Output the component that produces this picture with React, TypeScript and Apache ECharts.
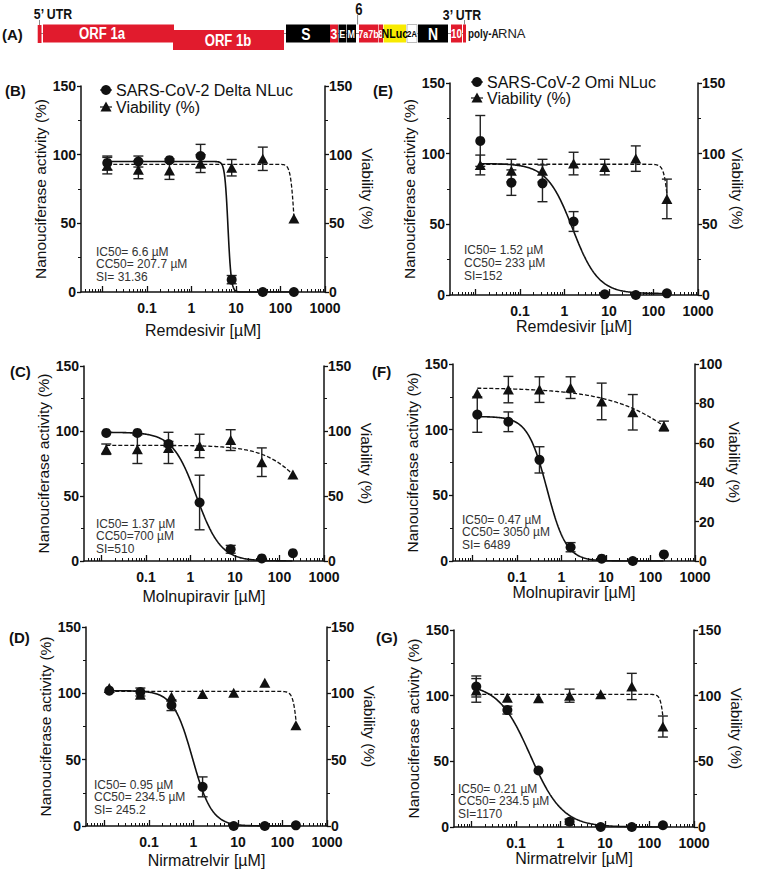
import React, { useEffect, useRef } from "react";
import * as echarts from "echarts";

const FONT = "'Liberation Sans', Arial, Helvetica, sans-serif";
const INK = "#111";

// Drug concentrations (µM), 5-fold dilution series
const concentrations = [0.0128, 0.064, 0.32, 1.6, 8, 40, 200];
const xTickValues = [0.1, 1, 10, 100, 1000];
const xTickLabels = ["0.1", "1", "10", "100", "1000"];

// 4PL fit parameters: [top, bottom, IC50 / CC50 (µM), hill slope]

// (B) SARS-CoV-2 Delta NLuc – Remdesivir
const deltaRemNluc = [94, 95, 96, 99, 9, 0, 0];
const deltaRemNlucSd = [5, 4, 1, 8.5, 3, 0, 0];
const deltaRemViab = [92, 89, 88.5, 93.5, 90.5, 97, 53.5];
const deltaRemViabSd = [6, 6.5, 6.5, 6.5, 6, 8.5, 0];
const deltaRemNlucFit = [95, 0, 6.6, 12];
const deltaRemViabFit = [93, 0, 207.7, 10];
const deltaRemStats = ["IC50= 6.6 µM", "CC50= 207.7 µM", "SI= 31.36"];

// (C) SARS-CoV-2 Delta NLuc – Molnupiravir
const deltaMolNluc = [98.5, 98.5, 90, 45, 9, 2, 6];
const deltaMolNlucSd = [0, 0, 2, 21, 3, 0, 0];
const deltaMolViab = [86, 86, 87, 88.5, 93, 76, 66.5];
const deltaMolViabSd = [4, 11, 12, 9, 8, 11, 0];
const deltaMolNlucFit = [99, 0, 1.37, 1.6];
const deltaMolViabFit = [89, 0, 700, 0.865];
const deltaMolStats = ["IC50= 1.37 µM", "CC50=700 µM", "SI=510"];

// (D) SARS-CoV-2 Delta NLuc – Nirmatrelvir
const deltaNirNluc = [102, 101, 91, 29.5, 0, 0, 0.5];
const deltaNirNlucSd = [0, 3, 4, 7.5, 0, 0, 0];
const deltaNirViab = [104, 99, 97.5, 99.5, 100.5, 108, 76];
const deltaNirViabSd = [0, 0, 0, 0, 0, 0, 0];
const deltaNirNlucFit = [102, 0, 0.95, 2];
const deltaNirViabFit = [101.5, 0, 234.5, 8.3];
const deltaNirStats = ["IC50= 0.95 µM", "CC50= 234.5 µM", "SI= 245.2"];

// (E) SARS-CoV-2 Omi NLuc – Remdesivir
const omiRemNluc = [109, 79.5, 79, 52, 0.5, 0, 1.2];
const omiRemNlucSd = [18, 9, 13, 7, 0, 0, 0];
const omiRemViab = [92, 88, 88, 93, 90.5, 96.5, 68];
const omiRemViabSd = [7, 8, 8, 8, 5.5, 9, 14];
const omiRemNlucFit = [93, 1, 1.52, 1.5];
const omiRemViabFit = [92.5, 0, 233, 8];
const omiRemStats = ["IC50= 1.52 µM", "CC50= 233 µM", "SI=152"];

// (F) SARS-CoV-2 Omi NLuc – Molnupiravir (viability on a 0–100 axis)
const omiMolNluc = [111.5, 106, 77, 10.5, 1.8, 0, 5];
const omiMolNlucSd = [13.5, 7.5, 10, 3.5, 0, 0, 0];
const omiMolViab = [85, 87, 87, 88, 81, 75.5, 68.5];
const omiMolViabSd = [0, 6.7, 6.5, 5.5, 9.3, 9, 2.5];
const omiMolNlucFit = [110, 0, 0.47, 2];
const omiMolViabFit = [88, 0, 3050, 0.46];
const omiMolStats = ["IC50= 0.47 µM", "CC50= 3050 µM", "SI= 6489"];

// (G) SARS-CoV-2 Omi NLuc – Nirmatrelvir
const omiNirNluc = [107, 89, 43, 4, 0, 0, 1.3];
const omiNirNlucSd = [8, 3, 0, 2, 0, 0, 0];
const omiNirViab = [104, 98.5, 98, 100, 101, 107, 76.5];
const omiNirViabSd = [9, 0, 0, 5, 0, 10, 8];
const omiNirNlucFit = [109, 0, 0.21, 1.2];
const omiNirViabFit = [101, 0, 234.5, 10];
const omiNirStats = ["IC50= 0.21 µM", "CC50= 234.5 µM", "SI=1170"];

type Panel = {
  tag: string;
  box: [number, number, number, number]; // left, top, right, bottom
  drug: string;
  nluc: number[];
  nlucSd: number[];
  viab: number[];
  viabSd: number[];
  nlucFit: number[];
  viabFit: number[];
  stats: string[];
  statsPos: [number, number, number];
  tagPos: [number, number];
  viabMax: number;
  viabInterval: number;
  gaps: { x: number; yl: number; yr: number };
  legend?: { text: string; pos: [number, number]; textX: number; rowGap: number };
};

const panels: Panel[] = [
  {
    tag: "(B)", box: [81, 86, 325, 292], drug: "Remdesivir [µM]",
    nluc: deltaRemNluc, nlucSd: deltaRemNlucSd, viab: deltaRemViab, viabSd: deltaRemViabSd,
    nlucFit: deltaRemNlucFit, viabFit: deltaRemViabFit, stats: deltaRemStats,
    statsPos: [96, 252, 12.3], tagPos: [5, 90], viabMax: 150, viabInterval: 50,
    gaps: { x: 30, yl: 15, yr: 34 },
    legend: { text: "SARS-CoV-2 Delta NLuc", pos: [106, 90], textX: 116, rowGap: 17 },
  },
  {
    tag: "(C)", box: [84, 366, 324, 561], drug: "Molnupiravir [µM]",
    nluc: deltaMolNluc, nlucSd: deltaMolNlucSd, viab: deltaMolViab, viabSd: deltaMolViabSd,
    nlucFit: deltaMolNlucFit, viabFit: deltaMolViabFit, stats: deltaMolStats,
    statsPos: [96, 524, 12.3], tagPos: [10, 371], viabMax: 150, viabInterval: 50,
    gaps: { x: 27, yl: 24, yr: 34 },
  },
  {
    tag: "(D)", box: [86, 627, 327, 826], drug: "Nirmatrelvir [µM]",
    nluc: deltaNirNluc, nlucSd: deltaNirNlucSd, viab: deltaNirViab, viabSd: deltaNirViabSd,
    nlucFit: deltaNirNlucFit, viabFit: deltaNirViabFit, stats: deltaNirStats,
    statsPos: [94, 785, 12.3], tagPos: [9, 637], viabMax: 150, viabInterval: 50,
    gaps: { x: 26, yl: 24, yr: 34 },
  },
  {
    tag: "(E)", box: [450, 83, 698, 295], drug: "Remdesivir [µM]",
    nluc: omiRemNluc, nlucSd: omiRemNlucSd, viab: omiRemViab, viabSd: omiRemViabSd,
    nlucFit: omiRemNlucFit, viabFit: omiRemViabFit, stats: omiRemStats,
    statsPos: [464, 250, 13.2], tagPos: [373, 90], viabMax: 150, viabInterval: 50,
    gaps: { x: 20, yl: 14, yr: 26 },
    legend: { text: "SARS-CoV-2 Omi NLuc", pos: [477, 82], textX: 487, rowGap: 16 },
  },
  {
    tag: "(F)", box: [453, 364, 695, 561], drug: "Molnupiravir [µM]",
    nluc: omiMolNluc, nlucSd: omiMolNlucSd, viab: omiMolViab, viabSd: omiMolViabSd,
    nlucFit: omiMolNlucFit, viabFit: omiMolViabFit, stats: omiMolStats,
    statsPos: [462, 520, 12.3], tagPos: [372, 371], viabMax: 100, viabInterval: 20,
    gaps: { x: 22, yl: 27, yr: 28 },
  },
  {
    tag: "(G)", box: [454, 630, 694, 827], drug: "Nirmatrelvir [µM]",
    nluc: omiNirNluc, nlucSd: omiNirNlucSd, viab: omiNirViab, viabSd: omiNirViabSd,
    nlucFit: omiNirNlucFit, viabFit: omiNirViabFit, stats: omiNirStats,
    statsPos: [458, 789, 12.3], tagPos: [376, 637], viabMax: 150, viabInterval: 50,
    gaps: { x: 20, yl: 22, yr: 34 },
  },
];

const PX_PER_DECADE = 44.5;
const LOG_MAX = Math.log10(1000);

function fourPL(fit: number[], c: number) {
  const [top, bottom, mid, hill] = fit;
  return bottom + (top - bottom) / (1 + Math.pow(c / mid, hill));
}

function fitCurve(fit: number[]) {
  const lo = Math.log10(concentrations[0]);
  const hi = Math.log10(concentrations[concentrations.length - 1]);
  const n = 400;
  const pts: number[][] = [];
  for (let i = 0; i <= n; i++) {
    const lx = lo + ((hi - lo) * i) / n;
    pts.push([lx, fourPL(fit, Math.pow(10, lx))]);
  }
  return pts;
}

function errorBarRender(params: any, api: any) {
  const x = api.value(0);
  const top = api.coord([x, api.value(2)]);
  const bot = api.coord([x, api.value(1)]);
  const w = 5;
  const style = { stroke: "#222", lineWidth: 1.4 };
  return {
    type: "group",
    children: [
      { type: "line", shape: { x1: top[0], y1: top[1], x2: bot[0], y2: bot[1] }, style },
      { type: "line", shape: { x1: top[0] - w, y1: top[1], x2: top[0] + w, y2: top[1] }, style },
      { type: "line", shape: { x1: bot[0] - w, y1: bot[1], x2: bot[0] + w, y2: bot[1] }, style },
    ],
  };
}

const RED = "#e11b2d";
const genomeBlocks = [
  { label: "", x0: 37.7, x1: 41.5, y0: 25, y1: 43, fill: RED },
  { label: "ORF 1a", x0: 43, x1: 174, y0: 24.5, y1: 42.5, fill: RED, tx: 102, size: 16 },
  { label: "ORF 1b", x0: 173, x1: 284, y0: 30, y1: 50, fill: RED, tx: 228, size: 16 },
  { label: "S", x0: 286, x1: 330, y0: 24.5, y1: 42.5, fill: "#000", tx: 306, size: 17 },
  { label: "3", x0: 330, x1: 338, y0: 24.5, y1: 42.5, fill: RED, size: 15 },
  { label: "E", x0: 338.5, x1: 346, y0: 24.5, y1: 42.5, fill: "#000", size: 11 },
  { label: "M", x0: 346.6, x1: 356, y0: 24.5, y1: 42.5, fill: "#000", size: 11 },
  { label: "7a7b", x0: 359, x1: 378, y0: 24.5, y1: 42.5, fill: RED, size: 11 },
  { label: "8", x0: 378.6, x1: 383, y0: 24.5, y1: 42.5, fill: RED, size: 11 },
  { label: "NLuc", x0: 383.6, x1: 406, y0: 24.5, y1: 42.5, fill: "#f8ea00", color: "#000", size: 13 },
  { label: "2A", x0: 407, x1: 417, y0: 24.5, y1: 42.5, fill: "#fff", stroke: "#aaa", color: "#000", size: 9 },
  { label: "N", x0: 418, x1: 448, y0: 24.5, y1: 42.5, fill: "#000", tx: 433, size: 17 },
  { label: "10", x0: 451, x1: 462, y0: 24.5, y1: 42.5, fill: RED, size: 12 },
  { label: "", x0: 463, x1: 466, y0: 24.5, y1: 42.5, fill: RED },
];

function narrowText(text: string, x: number, y: number, size: number, color: string, weight = "bold", align = "center") {
  return {
    type: "text",
    x,
    y,
    scaleX: 0.82,
    silent: true,
    z: 20,
    style: {
      text,
      x: 0,
      y: 0,
      fill: color,
      fontSize: size,
      fontWeight: weight,
      fontFamily: FONT,
      align,
      verticalAlign: "middle",
    },
  };
}

function buildOption() {
  const grid: any[] = [];
  const xAxis: any[] = [];
  const yAxis: any[] = [];
  const series: any[] = [];
  const graphics: any[] = [];

  // Genome map (A)
  graphics.push({ type: "line", silent: true, z: 10, shape: { x1: 38, y1: 33.5, x2: 466, y2: 33.5 }, style: { stroke: "#888", lineWidth: 1 } });
  genomeBlocks.forEach((b: any) => {
    graphics.push({
      type: "rect",
      silent: true,
      z: 11,
      shape: { x: b.x0, y: b.y0, width: b.x1 - b.x0, height: b.y1 - b.y0 },
      style: { fill: b.fill, stroke: b.stroke || null, lineWidth: b.stroke ? 0.8 : 0 },
    });
    if (b.label) {
      const cx = b.tx !== undefined ? b.tx : (b.x0 + b.x1) / 2;
      const cy = (b.y0 + b.y1) / 2 + 0.5;
      graphics.push(narrowText(b.label, cx, cy, b.size, b.color || "#fff"));
    }
  });
  [
    [39.5, 20, 25],
    [357.6, 15, 24.5],
    [464.5, 20, 24.5],
  ].forEach(([x, y1, y2]) =>
    graphics.push({ type: "line", silent: true, z: 10, shape: { x1: x, y1, x2: x, y2 }, style: { stroke: "#888", lineWidth: 1 } })
  );
  graphics.push(narrowText("5’ UTR", 53, 14, 15, INK));
  graphics.push(narrowText("6", 359, 9.5, 16, INK));
  graphics.push(narrowText("3’ UTR", 462, 15, 15, INK));
  graphics.push(narrowText("poly-A", 468, 34, 12, INK, "bold", "left"));
  graphics.push({
    type: "text", silent: true, z: 20, x: 498, y: 33,
    style: { text: "RNA", x: 0, y: 0, fill: "#222", fontSize: 13, fontFamily: FONT, align: "left", verticalAlign: "middle" },
  });
  graphics.push({
    type: "text", silent: true, z: 20, x: 2, y: 34,
    style: { text: "(A)", x: 0, y: 0, fill: INK, fontSize: 15, fontWeight: "bold", fontFamily: FONT, align: "left", verticalAlign: "middle" },
  });

  panels.forEach((p, i) => {
    const [left, top, right, bottom] = p.box;
    const width = right - left;
    const logMin = LOG_MAX - width / PX_PER_DECADE;
    grid.push({ left, top, width, height: bottom - top, containLabel: false, outerBoundsMode: "none" });

    const majorTicks = [-2, -1, 0, 1, 2, 3].filter((v) => v >= logMin);
    const minorTicks: number[] = [];
    for (let n = -3; n <= 2; n++) {
      for (let k = 2; k <= 9; k++) {
        const v = Math.log10(k * Math.pow(10, n));
        if (v > logMin && v < LOG_MAX) minorTicks.push(v);
      }
    }
    const labelPos = xTickValues.map((v) => Math.log10(v));

    xAxis.push({
      type: "value",
      gridIndex: i,
      min: logMin,
      max: LOG_MAX,
      position: "bottom",
      axisLine: { show: true, onZero: false, lineStyle: { color: INK, width: 1.5 } },
      axisTick: { show: true, inside: true, length: 6, customValues: majorTicks, lineStyle: { color: INK, width: 1.3 } },
      axisLabel: {
        show: true,
        customValues: labelPos,
        formatter: (v: number) => {
          const idx = labelPos.findIndex((q) => Math.abs(q - v) < 1e-6);
          return idx >= 0 ? xTickLabels[idx] : "";
        },
        fontSize: 14,
        fontWeight: "bold",
        fontFamily: FONT,
        color: INK,
        margin: 9,
      },
      splitLine: { show: false },
      name: p.drug,
      nameLocation: "middle",
      nameGap: p.gaps.x,
      nameTextStyle: { fontSize: 16, fontFamily: FONT, color: INK },
    });
    xAxis.push({
      type: "value",
      gridIndex: i,
      min: logMin,
      max: LOG_MAX,
      position: "bottom",
      axisLine: { show: false, onZero: false },
      axisTick: { show: true, inside: true, length: 3, customValues: minorTicks, lineStyle: { color: INK, width: 1 } },
      axisLabel: { show: false },
      splitLine: { show: false },
    });

    yAxis.push({
      type: "value",
      gridIndex: i,
      position: "left",
      min: 0,
      max: 150,
      interval: 50,
      axisLine: { show: true, onZero: false, lineStyle: { color: INK, width: 1.5 } },
      axisTick: { show: true, length: 4, lineStyle: { color: INK, width: 1.3 } },
      minorTick: { show: true, splitNumber: 2, length: 3, lineStyle: { color: INK, width: 1 } },
      axisLabel: { fontSize: 14, fontWeight: "bold", fontFamily: FONT, color: INK, margin: 5 },
      splitLine: { show: false },
      name: "Nanouciferase activity (%)",
      nameLocation: "middle",
      nameGap: p.gaps.yl,
      nameTextStyle: { fontSize: 15.5, fontFamily: FONT, color: INK },
    });
    yAxis.push({
      type: "value",
      gridIndex: i,
      position: "right",
      min: 0,
      max: p.viabMax,
      interval: p.viabInterval,
      axisLine: { show: true, onZero: false, lineStyle: { color: INK, width: 1.5 } },
      axisTick: { show: true, length: 4, lineStyle: { color: INK, width: 1.3 } },
      minorTick: { show: p.viabMax === 150, splitNumber: 2, length: 3, lineStyle: { color: INK, width: 1 } },
      axisLabel: { fontSize: 14, fontWeight: "bold", fontFamily: FONT, color: INK, margin: 4 },
      splitLine: { show: false },
      name: "Viability (%)",
      nameLocation: "middle",
      nameRotate: -90,
      nameGap: p.gaps.yr,
      nameTextStyle: { fontSize: 15.5, fontFamily: FONT, color: INK },
    });

    const xi = 2 * i;
    const yl = 2 * i;
    const yr = 2 * i + 1;
    const logC = concentrations.map((c) => Math.log10(c));

    series.push({
      type: "line", xAxisIndex: xi, yAxisIndex: yl, data: fitCurve(p.nlucFit),
      showSymbol: false, silent: true, z: 3, lineStyle: { color: INK, width: 1.6 },
    });
    series.push({
      type: "line", xAxisIndex: xi, yAxisIndex: yr, data: fitCurve(p.viabFit),
      showSymbol: false, silent: true, z: 3, lineStyle: { color: INK, width: 1.3, type: [4, 2] },
    });
    const bars = (vals: number[], sds: number[]) =>
      vals.map((v, k) => [logC[k], v - sds[k], v + sds[k], sds[k]]).filter((d) => d[3] > 0);
    series.push({
      type: "custom", xAxisIndex: xi, yAxisIndex: yl, renderItem: errorBarRender,
      data: bars(p.nluc, p.nlucSd), encode: { x: 0, y: [1, 2] }, silent: true, z: 4,
    });
    series.push({
      type: "custom", xAxisIndex: xi, yAxisIndex: yr, renderItem: errorBarRender,
      data: bars(p.viab, p.viabSd), encode: { x: 0, y: [1, 2] }, silent: true, z: 4,
    });
    series.push({
      type: "scatter", xAxisIndex: xi, yAxisIndex: yl, symbol: "circle", symbolSize: 10,
      data: p.nluc.map((v, k) => [logC[k], v]), itemStyle: { color: INK, opacity: 1 }, silent: true, z: 5,
    });
    series.push({
      type: "scatter", xAxisIndex: xi, yAxisIndex: yr, symbol: "triangle", symbolSize: [11, 10],
      data: p.viab.map((v, k) => [logC[k], v]), itemStyle: { color: INK, opacity: 1 }, silent: true, z: 5,
    });

    // Panel tag
    graphics.push({
      type: "text", silent: true, z: 20, x: p.tagPos[0], y: p.tagPos[1],
      style: { text: p.tag, x: 0, y: 0, fill: INK, fontSize: 15, fontWeight: "bold", fontFamily: FONT, align: "left", verticalAlign: "middle" },
    });

    // Fit statistics (one block of three lines)
    const [sx, sy, sh] = p.statsPos;
    graphics.push({
      type: "text", silent: true, z: 20, x: sx, y: sy - sh / 2,
      style: {
        text: p.stats.join("\n"), x: 0, y: 0, fill: "#333", fontSize: 12, lineHeight: sh,
        fontFamily: FONT, align: "left", verticalAlign: "top",
      },
    });

    // Legend
    if (p.legend) {
      const [lx, ly] = p.legend.pos;
      const rows = [
        { text: p.legend.text, y: ly, shape: "circle" },
        { text: "Viability (%)", y: ly + p.legend.rowGap, shape: "triangle" },
      ];
      rows.forEach((r) => {
        graphics.push({ type: "line", silent: true, z: 20, shape: { x1: lx - 6, y1: r.y, x2: lx + 6, y2: r.y }, style: { stroke: INK, lineWidth: 1.2 } });
        if (r.shape === "circle") {
          graphics.push({ type: "circle", silent: true, z: 21, shape: { cx: lx, cy: r.y, r: 5 }, style: { fill: INK } });
        } else {
          graphics.push({
            type: "polygon", silent: true, z: 21,
            shape: { points: [[lx, r.y - 5.5], [lx - 5.5, r.y + 4.5], [lx + 5.5, r.y + 4.5]] },
            style: { fill: INK },
          });
        }
        graphics.push({
          type: "text", silent: true, z: 20, x: p.legend!.textX, y: r.y,
          style: { text: r.text, x: 0, y: 0, fill: INK, fontSize: 16, fontFamily: FONT, align: "left", verticalAlign: "middle" },
        });
      });
    }
  });

  return {
    animation: false,
    backgroundColor: "#fff",
    textStyle: { fontFamily: FONT },
    grid,
    xAxis,
    yAxis,
    series,
    graphic: { elements: graphics },
  };
}

export default function App() {
  const ref = useRef<HTMLDivElement>(null);
  useEffect(() => {
    if (!ref.current) return;
    const chart = echarts.init(ref.current, null, { renderer: "svg", width: 779, height: 876 });
    chart.setOption(buildOption() as any);
    return () => chart.dispose();
  }, []);
  return (
    <div
      ref={ref}
      style={{ position: "fixed", left: 0, top: 0, width: 779, height: 876, background: "#fff" }}
    />
  );
}
